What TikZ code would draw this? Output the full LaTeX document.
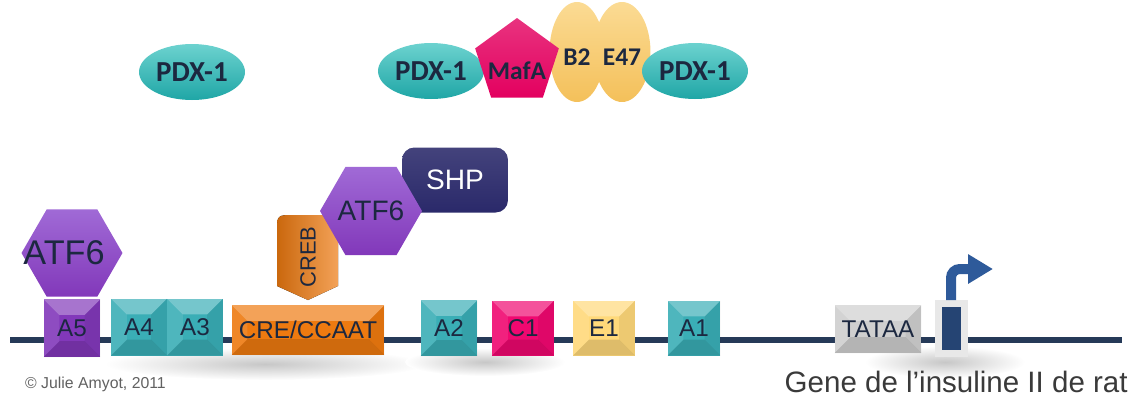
\documentclass[tikz,border=0pt]{standalone}
\usepackage{fontspec}
\setmainfont{Liberation Sans}
\newfontfamily\carl{Carlito}
\usetikzlibrary{shapes.geometric,arrows.meta}

\definecolor{ink}{HTML}{1C2840}
\definecolor{note}{HTML}{3A3A3A}
\definecolor{pdx}{HTML}{1FA6A6}
\definecolor{pdxl}{HTML}{6CD2CF}
\definecolor{mafa}{HTML}{E3005F}
\definecolor{bhlh}{HTML}{F4C05A}
\definecolor{bhlhl}{HTML}{FBDB94}
\definecolor{atf}{HTML}{8238BA}
\definecolor{atfl}{HTML}{A06AD6}
\definecolor{shp}{HTML}{2A296A}
\definecolor{creb}{HTML}{EE7A10}
\definecolor{siteA}{HTML}{3AAEB6}
\definecolor{siteC}{HTML}{F00870}
\definecolor{siteE}{HTML}{FFD97A}
\definecolor{tata}{HTML}{CFCFCF}
\definecolor{dna}{HTML}{263A58}
\definecolor{tss}{HTML}{254473}
\definecolor{tssarrow}{HTML}{2E5A9A}

\newcommand\bbx{path picture bounding box}

\tikzset{
  factor/.style={inner sep=0pt, text=ink, font=\carl\bfseries\fontsize{14.5}{16}\selectfont},
  pdx/.style={factor, ellipse, top color=pdxl, bottom color=pdx,
    minimum width=2.12cm, minimum height=1.12cm, font=\carl\bfseries\fontsize{16.5}{18}\selectfont},
  bhlh/.style={factor, ellipse, top color=bhlhl, bottom color=bhlh,
    minimum width=1.1cm, minimum height=2cm},
  hexa/.style={regular polygon, regular polygon sides=6, inner sep=0pt,
    top color=atfl, bottom color=atf, text=ink},
  shadow spot/.style={inner color=black!22, outer color=white},
  site/.style={inner sep=0pt, text=ink, font=\fontsize{13.8}{15}\selectfont,
    path picture={
      \fill[white,opacity=.3] (\bbx.north west) -- (\bbx.north east)
        -- ([shift={(-9pt,-9pt)}]\bbx.north east) -- ([shift={(9pt,-9pt)}]\bbx.north west) -- cycle;
      \fill[black,opacity=.13] (\bbx.south west) -- (\bbx.south east)
        -- ([shift={(-9pt,9pt)}]\bbx.south east) -- ([shift={(9pt,9pt)}]\bbx.south west) -- cycle;
      \fill[white,opacity=.1] (\bbx.north west) -- (\bbx.south west)
        -- ([shift={(9pt,9pt)}]\bbx.south west) -- ([shift={(9pt,-9pt)}]\bbx.north west) -- cycle;
      \fill[black,opacity=.07] (\bbx.north east) -- (\bbx.south east)
        -- ([shift={(-9pt,9pt)}]\bbx.south east) -- ([shift={(-9pt,-9pt)}]\bbx.north east) -- cycle;
    }},
}

\begin{document}
\begin{tikzpicture}[x=0.02cm,y=-0.02cm]
  \useasboundingbox (0,0) rectangle (1134,397);

  \shade[shadow spot] (265,364) ellipse (160 and 16);
  \shade[shadow spot] (485,362) ellipse (80 and 14);
  \shade[shadow spot] (945,362) ellipse (80 and 16);

  \coordinate (dna start) at (10,340);
  \coordinate (dna end) at (1122,340);
  \draw[dna,line width=0.12cm] (dna start) -- (dna end);

  \foreach \n/\x/\y/\w/\h/\c/\t in {a5/72/328/1.14/1.16/atf/A5, a4/139/327/1.12/1.14/siteA/A4,
      a3/195/327/1.12/1.14/siteA/A3, cre/308/330/3.06/1.0/creb/{CRE/CCAAT},
      a2/449/328/1.14/1.12/siteA/A2, c1/523/328/1.24/1.1/siteC/C1,
      e1/604/328/1.24/1.1/siteE/E1, a1/694/328/1.06/1.1/siteA/A1,
      tataa/878/329/1.74/0.96/tata/TATAA}
    \node[site,fill=\c,minimum width=\w cm,minimum height=\h cm] (\n) at (\x,\y) {\t};

  \node[draw=gray!18,line width=0.14cm,fill=tss,minimum width=0.52cm,minimum height=1.0cm,inner sep=0pt] (tss) at (951,328.5) {};
  \draw[tssarrow,line width=0.2cm,rounded corners=5pt,-{Triangle[width=0.56cm,length=0.5cm]}]
    (tss.north) |- (993,269);

  \node[hexa,minimum size=2.02cm,font=\fontsize{19.5}{20}\selectfont] (atf left) at (72,253) {\makebox[0pt]{ATF6\hspace{9pt}}};

  \node[rounded corners=7pt,top color=shp!88!white,bottom color=shp,minimum width=2.12cm,minimum height=1.3cm,
    text=white,font=\fontsize{16}{18}\selectfont] (shp) at (455,180) {SHP};
  \fill[left color=creb!85!black,right color=creb!70!white] (277,286) -- (277,232) .. controls (277,215) .. (294,215)
    -- (321,215) .. controls (338,215) .. (338,232) -- (338,286) -- (308,300) -- cycle;
  \node[rotate=90,text=ink,font=\fontsize{12.5}{14}\selectfont] (creb) at (308,257) {CREB};
  \node[hexa,minimum size=2.04cm,font=\fontsize{16}{18}\selectfont] (atf mid) at (371,211) {\makebox[0pt]{ATF6}};

  \node[pdx] (pdx a) at (192,72) {PDX-1};
  \node[pdx] (pdx b) at (431,71) {PDX-1};
  \node[bhlh] (b2) at (577,52) {\makebox[0pt]{\raisebox{-7.5pt}[0pt][0pt]{B2}}};
  \node[factor,regular polygon,regular polygon sides=5,minimum size=1.76cm,top color=mafa!80!white,bottom color=mafa]
    (mafa) at (517,62) {\makebox[0pt]{\raisebox{-10pt}[0pt][0pt]{MafA}}};
  \node[bhlh,minimum width=1.14cm] (e47) at (622,52) {\makebox[0pt]{\raisebox{-7.5pt}[0pt][0pt]{E47}}};
  \node[pdx] (pdx c) at (695,71) {PDX-1};

  \node[text=note!80!white,font=\fontsize{9}{11}\selectfont,anchor=west] (credit) at (19,384) {© Julie Amyot, 2011};
  \node[text=note,font=\fontsize{16.8}{18}\selectfont,anchor=base east,inner sep=0pt] (title) at (1128,392) {Gene de l’insuline II de rat};
\end{tikzpicture}
\end{document}
